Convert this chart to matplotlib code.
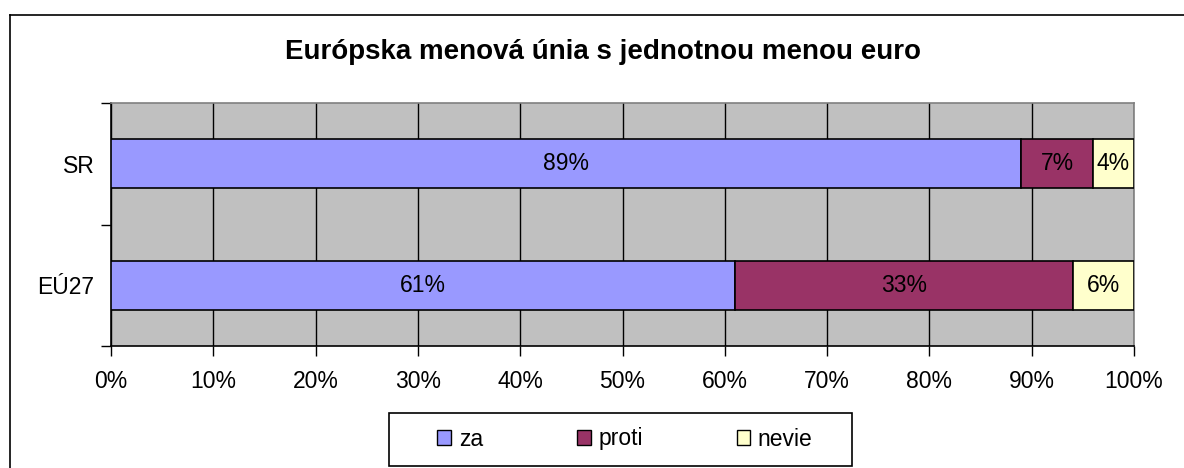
import matplotlib
matplotlib.use("Agg")
import matplotlib.pyplot as plt
from matplotlib.lines import Line2D
from matplotlib.patches import Patch, Rectangle
import numpy as np

plt.rcParams["font.family"] = ["Liberation Sans", "DejaVu Sans"]

# Farby v štýle Excelu
ZA = "#9999FF"
PROTI = "#993366"
NEVIE = "#FFFFCC"
PLOT_BG = "#C0C0C0"
FS = 16.5

title = "Európska menová únia s jednotnou menou euro"
categories = ["EÚ27", "SR"]
za = [61, 89]
proti = [33, 7]
nevie = [6, 4]
series_labels = ["za", "proti", "nevie"]

W, H = 1184, 468
fig = plt.figure(figsize=(W / 100, H / 100), dpi=100)

# rám okolo grafu (pravý a dolný okraj sú mimo obrázka)
bx, by = 9.5 / W, 1 - 14.5 / H
fig.add_artist(Line2D([bx, bx], [by, 0], transform=fig.transFigure, color="black", lw=1.2))
fig.add_artist(Line2D([bx, 1], [by, by], transform=fig.transFigure, color="black", lw=1.2))

ax = fig.add_axes([111 / W, 1 - 346 / H, (1134 - 111) / W, (346 - 103) / H])
ax.set_facecolor(PLOT_BG)

y = np.arange(len(categories))
h = 0.4
left = np.zeros(len(categories))
for vals, col in [(za, ZA), (proti, PROTI), (nevie, NEVIE)]:
    ax.barh(y, vals, left=left, height=h, color=col, edgecolor="black", linewidth=1.2, zorder=3)
    for yi, l, v in zip(y, left, vals):
        ax.text(l + v / 2, yi, f"{v}%", ha="center", va="center", fontsize=FS, color="black", zorder=4)
    left = left + np.array(vals)

ax.set_xlim(0, 100)
ax.set_ylim(-0.5, len(categories) - 0.5)
ax.set_xticks(np.arange(0, 101, 10))
ax.set_xticklabels([f"{v}%" for v in range(0, 101, 10)], fontsize=FS)
ax.set_yticks(y)
ax.set_yticklabels(categories, fontsize=FS)
ax.set_yticks(np.arange(-0.5, len(categories), 1), minor=True)
ax.tick_params(axis="y", which="major", length=0, pad=12)
ax.tick_params(axis="y", which="minor", length=7, width=1, direction="out")
ax.tick_params(axis="x", length=7, width=1, direction="out", pad=10)

ax.grid(axis="x", color="black", linewidth=1, zorder=1)
ax.set_axisbelow(True)
ax.spines["left"].set_color("black")
ax.spines["bottom"].set_color("black")
ax.spines["top"].set_color("#808080")
ax.spines["right"].set_color("#808080")
for s in ax.spines.values():
    s.set_linewidth(1.2)

fig.text(603 / W, 1 - 52 / H, title, ha="center", va="center", fontsize=20, fontweight="bold")

# rámček legendy zvlášť, aby mal širšie okraje než položky
fig.add_artist(Rectangle((388.5 / W, 1 - 466 / H), (852 - 388.5) / W, (466 - 412.5) / H,
                         transform=fig.transFigure, facecolor="white", edgecolor="black", lw=1.2))
handles = [Patch(facecolor=c, edgecolor="black", linewidth=1) for c in (ZA, PROTI, NEVIE)]
leg = fig.legend(handles, series_labels, loc="center", bbox_to_anchor=(625 / W, 1 - 439 / H),
                 ncol=3, fontsize=FS, frameon=False,
                 handlelength=0.6, handleheight=0.6, handletextpad=0.33, columnspacing=4.1,
                 borderpad=0, borderaxespad=0)

fig.savefig("out.png", dpi=100, facecolor="white")
